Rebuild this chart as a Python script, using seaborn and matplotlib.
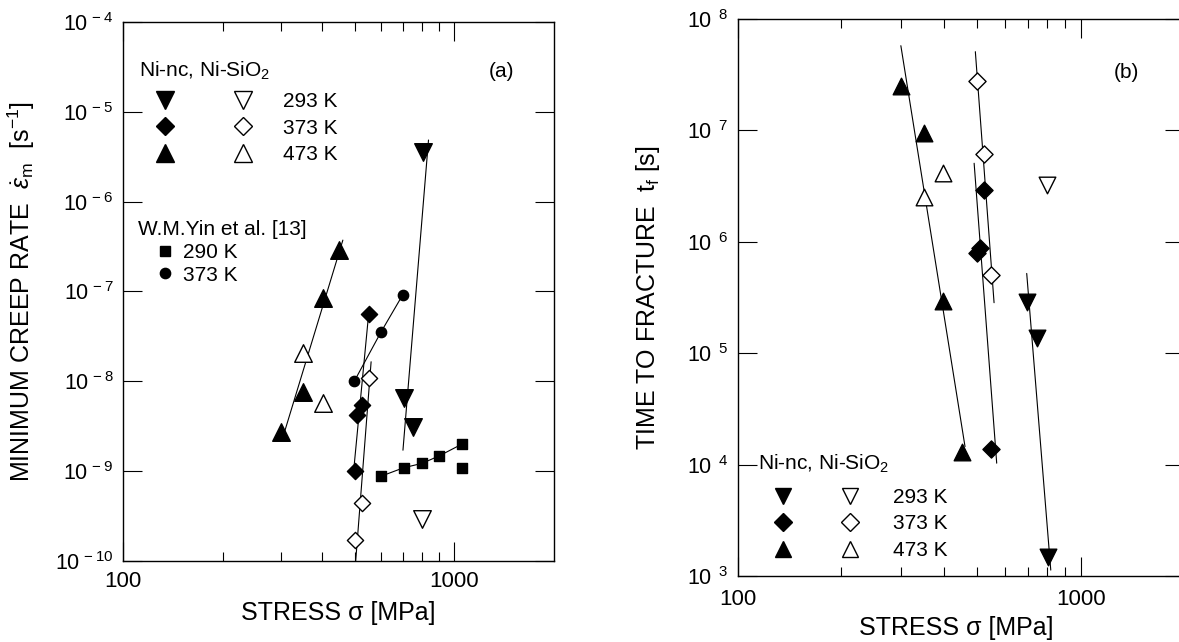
import numpy as np
import matplotlib
matplotlib.use("Agg")
import matplotlib.pyplot as plt
import seaborn as sns
from matplotlib.lines import Line2D
from matplotlib.legend_handler import HandlerTuple
from matplotlib.ticker import FixedLocator, FuncFormatter, NullFormatter, NullLocator

# ---------------- data : panel (a) minimum creep rate [1/s] vs stress [MPa] ----------------
a_ninc_293_s = [804, 703, 753]
a_ninc_293_r = [3.6e-6, 6.5e-9, 3.1e-9]
a_ninc_373_s = [551, 526, 510, 500]
a_ninc_373_r = [5.6e-8, 5.4e-9, 4.2e-9, 1.0e-9]
a_ninc_473_s = [300, 350, 401, 450]
a_ninc_473_r = [2.74e-9, 7.6e-9, 8.4e-8, 2.9e-7]
a_sio2_293_s = [799]
a_sio2_293_r = [2.9e-10]
a_sio2_373_s = [553, 526, 502]
a_sio2_373_r = [1.09e-8, 4.4e-10, 1.7e-10]
a_sio2_473_s = [350, 401]
a_sio2_473_r = [2.05e-8, 5.7e-9]
yin_290_s = [602, 703, 799, 901, 1055, 1055]
yin_290_r = [8.8e-10, 1.09e-9, 1.22e-9, 1.48e-9, 2.0e-9, 1.09e-9]
yin_373_s = [499, 600, 698]
yin_373_r = [1.0e-8, 3.5e-8, 9.1e-8]
# fitted lines of panel (a): end points
a_fit_293_s = [836, 700]
a_fit_293_r = [4.85e-6, 1.71e-9]
a_fit_373_s = [550, 496]
a_fit_373_r = [5.06e-8, 9.4e-10]
a_fit_373o_s = [561, 504]
a_fit_373o_r = [1.65e-8, 1.0e-10]
a_fit_473_s = [302, 461]
a_fit_473_r = [2.21e-9, 3.73e-7]

# ---------------- data : panel (b) time to fracture [s] vs stress [MPa] ----------------
b_ninc_293_s = [699, 744, 805]
b_ninc_293_t = [2.9e5, 1.36e5, 1.49e3]
b_ninc_373_s = [522, 509, 500, 548]
b_ninc_373_t = [2.92e6, 8.74e5, 7.9e5, 1.37e4]
b_ninc_473_s = [299, 349, 398, 450]
b_ninc_473_t = [2.5e7, 9.4e6, 2.94e5, 1.31e4]
b_sio2_293_s = [796]
b_sio2_293_t = [3.24e6]
b_sio2_373_s = [500, 522, 547]
b_sio2_373_t = [2.79e7, 6.2e6, 5.0e5]
b_sio2_473_s = [349, 398]
b_sio2_473_t = [2.54e6, 4.17e6]
# fitted lines of panel (b): end points
b_fit_293_s = [696, 818]
b_fit_293_t = [5.2e5, 1.13e3]
b_fit_373_s = [489, 569]
b_fit_373_t = [5.07e6, 1.03e4]
b_fit_373o_s = [493, 559]
b_fit_373o_t = [5.09e7, 2.84e5]
b_fit_473_s = [299, 460]
b_fit_473_t = [5.76e7, 1.45e4]

# ---------------- axis tick values / labels ----------------
x_major = [100, 1000]
x_major_labels = ["100", "1000"]
x_minor = [200, 300, 400, 500, 600, 700, 800, 900]
a_y_exponents = [-10, -9, -8, -7, -6, -5, -4]
b_y_exponents = [3, 4, 5, 6, 7, 8]
temps_ni = ["293 K", "373 K", "473 K"]
temps_yin = ["290 K", "373 K"]

# ---------------- style ----------------
sns.set_theme(style="ticks")
plt.rcParams.update({
    "font.family": ["Liberation Sans", "DejaVu Sans"],
    "mathtext.fontset": "custom",
    "mathtext.rm": "Liberation Sans",
    "mathtext.it": "Liberation Sans:italic",
    "mathtext.bf": "Liberation Sans:bold",
    "axes.linewidth": 1.0,
    "axes.edgecolor": "black",
    "axes.labelcolor": "black",
    "text.color": "black",
    "xtick.color": "black",
    "ytick.color": "black",
})

FS_XTICK = 16
FS_YTICK = 15.5
FS_LABEL = 18
FS_LEG = 15
LW_FIT = 0.8
EW = 1.0

fig = plt.figure(figsize=(11.79, 6.42), dpi=100)
ax_a = fig.add_axes([0.1043, 0.1262, 0.3656, 0.8396])
ax_b = fig.add_axes([0.6257, 0.1028, 0.3785, 0.8676])


def style_axes(ax, exps, space, xpad):
    ax.set_xscale("log")
    ax.set_yscale("log")
    ax.set_xlim(100, 2000)
    ax.set_ylim(10.0 ** exps[0], 10.0 ** exps[-1])
    ax.xaxis.set_major_locator(FixedLocator(x_major))
    ax.xaxis.set_minor_locator(FixedLocator(x_minor))
    lab = dict(zip(x_major, x_major_labels))
    ax.xaxis.set_major_formatter(FuncFormatter(lambda v, p: lab.get(int(round(v)), "")))
    ax.xaxis.set_minor_formatter(NullFormatter())
    ax.yaxis.set_major_locator(FixedLocator([10.0 ** e for e in exps]))
    ax.yaxis.set_minor_locator(NullLocator())
    ax.yaxis.set_major_formatter(FuncFormatter(
        lambda v, p: r"$\mathregular{10^{%s%d}}$" % (space, int(round(np.log10(v))))))
    ax.tick_params(which="both", direction="in", top=True, right=True,
                   width=0.8, colors="black")
    ax.tick_params(axis="x", labelsize=FS_XTICK)
    ax.tick_params(axis="y", labelsize=FS_YTICK)
    ax.tick_params(axis="y", which="major", length=14, pad=7)
    ax.tick_params(axis="x", which="major", length=14, pad=xpad)
    ax.tick_params(axis="x", which="minor", length=6.5)
    for sp in ax.spines.values():
        sp.set_visible(True)
        sp.set_linewidth(1.0)
        sp.set_color("black")


def fit(ax, s, v):
    sns.lineplot(x=s, y=v, ax=ax, color="black", linewidth=LW_FIT, sort=False,
                 estimator=None, zorder=2, legend=False)


def pts(ax, s, v, marker, size, filled=True):
    sns.scatterplot(x=s, y=v, ax=ax, marker=marker, s=size,
                    color="black" if filled else "white", edgecolor="black",
                    linewidth=EW, zorder=3, legend=False)


style_axes(ax_a, a_y_exponents, r"\,", 7.5)
style_axes(ax_b, b_y_exponents, r"\;\;", 9.5)

# ---------------- panel (a) ----------------
fit(ax_a, a_fit_473_s, a_fit_473_r)
fit(ax_a, a_fit_373_s, a_fit_373_r)
fit(ax_a, a_fit_373o_s, a_fit_373o_r)
fit(ax_a, a_fit_293_s, a_fit_293_r)
fit(ax_a, yin_290_s[:5], yin_290_r[:5])
fit(ax_a, yin_373_s, yin_373_r)

TRI_A, DIA_A = 160, 68
pts(ax_a, a_ninc_473_s, a_ninc_473_r, "^", TRI_A)
pts(ax_a, a_sio2_473_s, a_sio2_473_r, "^", TRI_A, False)
pts(ax_a, a_ninc_373_s, a_ninc_373_r, "D", DIA_A)
pts(ax_a, a_sio2_373_s, a_sio2_373_r, "D", DIA_A, False)
pts(ax_a, a_ninc_293_s, a_ninc_293_r, "v", TRI_A)
pts(ax_a, a_sio2_293_s, a_sio2_293_r, "v", TRI_A, False)
pts(ax_a, yin_290_s, yin_290_r, "s", 50)
pts(ax_a, yin_373_s, yin_373_r, "o", 55)

# ---------------- panel (b) ----------------
fit(ax_b, b_fit_473_s, b_fit_473_t)
fit(ax_b, b_fit_373_s, b_fit_373_t)
fit(ax_b, b_fit_373o_s, b_fit_373o_t)
fit(ax_b, b_fit_293_s, b_fit_293_t)

TRI_B, DIA_B = 143, 76
pts(ax_b, b_ninc_473_s, b_ninc_473_t, "^", TRI_B)
pts(ax_b, b_sio2_473_s, b_sio2_473_t, "^", TRI_B, False)
pts(ax_b, b_ninc_373_s, b_ninc_373_t, "D", DIA_B)
pts(ax_b, b_sio2_373_s, b_sio2_373_t, "D", DIA_B, False)
pts(ax_b, b_ninc_293_s, b_ninc_293_t, "v", TRI_B)
pts(ax_b, b_sio2_293_s, b_sio2_293_t, "v", TRI_B, False)

# ---------------- labels ----------------
ax_a.set_xlabel("STRESS σ [MPa]", fontsize=FS_LABEL)
ax_b.set_xlabel("STRESS σ [MPa]", fontsize=FS_LABEL)
ax_a.set_ylabel(r"MINIMUM CREEP RATE  $\dot{\varepsilon}_{\mathrm{m}}$  [s$^{\mathrm{-1}}$]",
                fontsize=FS_LABEL)
ax_b.set_ylabel(r"TIME TO FRACTURE  $\mathrm{t_f}$ [s]", fontsize=FS_LABEL)
ax_a.xaxis.set_label_coords(0.5, -0.0735)
ax_b.xaxis.set_label_coords(0.49, -0.071)
ax_a.yaxis.set_label_coords(-0.199, 0.5)
ax_b.yaxis.set_label_coords(-0.170, 0.5)

ax_a.text(0.8787, 0.8985, "(a)", transform=ax_a.transAxes, ha="center", va="baseline", fontsize=FS_LEG)
ax_b.text(0.8716, 0.8935, "(b)", transform=ax_b.transAxes, ha="center", va="baseline", fontsize=FS_LEG)


# ---------------- legends ----------------
def mk(marker, size, filled=True):
    return Line2D([], [], linestyle="none", marker=marker, markersize=np.sqrt(size),
                  markerfacecolor="black" if filled else "white",
                  markeredgecolor="black", markeredgewidth=EW)


def ni_legend(ax, tri, dia, anchor, hlen, pad, tpad, lspace):
    handles = [(mk("v", tri), mk("v", tri, False)),
               (mk("D", dia), mk("D", dia, False)),
               (mk("^", tri), mk("^", tri, False))]
    leg = ax.legend(handles, temps_ni, handler_map={tuple: HandlerTuple(ndivide=None, pad=pad)},
                    loc="upper left", bbox_to_anchor=anchor, bbox_transform=ax.transAxes,
                    frameon=False, fontsize=FS_LEG, handlelength=hlen, handletextpad=tpad,
                    labelspacing=lspace, borderpad=0, borderaxespad=0, numpoints=1)
    return leg


leg_a = ni_legend(ax_a, TRI_A, DIA_A + 12, (0.051, 0.870), 5.65, 1.81, 0.96, 0.36)
ax_a.add_artist(leg_a)
leg_yin = ax_a.legend([mk("s", 50), mk("o", 55)], temps_yin, loc="upper left",
                      bbox_to_anchor=(0.081, 0.590), bbox_transform=ax_a.transAxes,
                      frameon=False, fontsize=FS_LEG, handlelength=0.67, handletextpad=0.54,
                      labelspacing=0.18, borderpad=0, borderaxespad=0, numpoints=1)
ni_legend(ax_b, TRI_B, DIA_B, (0.0724, 0.158), 4.48, 1.92, 1.44, 0.36)

ax_a.text(0.0378, 0.8985, r"Ni-nc, Ni-SiO$_{\mathrm{2}}$", transform=ax_a.transAxes,
          ha="left", va="baseline", fontsize=FS_LEG)
ax_a.text(0.0341, 0.6048, "W.M.Yin et al. [13]", transform=ax_a.transAxes,
          ha="left", va="baseline", fontsize=FS_LEG)
ax_b.text(0.0462, 0.1903, r"Ni-nc, Ni-SiO$_{\mathrm{2}}$", transform=ax_b.transAxes,
          ha="left", va="baseline", fontsize=FS_LEG)

fig.savefig("out.png", dpi=100)
